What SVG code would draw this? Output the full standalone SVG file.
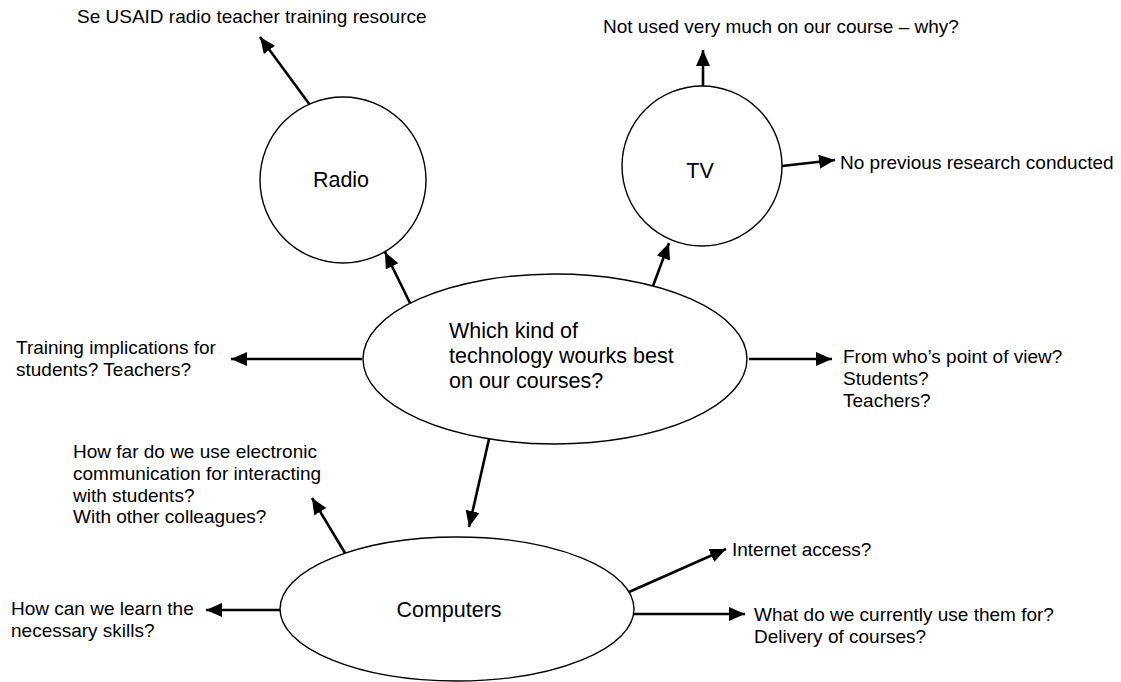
<svg xmlns="http://www.w3.org/2000/svg" width="1121" height="682" viewBox="0 0 1121 682">
<style>
.shape{fill:#fff;stroke:#000;stroke-width:1.4}
.lbl{font-family:"Liberation Sans",Arial,sans-serif;font-size:19px;fill:#000}
.big{font-family:"Liberation Sans",Arial,sans-serif;font-size:21.5px;fill:#000}
.arr{stroke:#000;stroke-width:2.6;fill:none;marker-end:url(#ah)}
</style>
<defs>
<marker id="ah" markerUnits="userSpaceOnUse" markerWidth="17" markerHeight="15" refX="16" refY="7" orient="auto" viewBox="0 0 17 15">
<path d="M0,0 L16,7 L0,14 z" fill="#000"/>
</marker>
</defs>
<rect width="1121" height="682" fill="#fff"/>
<g id="connectors">
<line class="arr" x1="310" y1="105" x2="260" y2="37"/>
<line class="arr" x1="703" y1="86" x2="703" y2="50"/>
<line class="arr" x1="782" y1="166" x2="835" y2="160"/>
<line class="arr" x1="410" y1="303" x2="385" y2="252"/>
<line class="arr" x1="653" y1="286" x2="669" y2="243"/>
<line class="arr" x1="362" y1="359" x2="231" y2="359"/>
<line class="arr" x1="749" y1="359" x2="832" y2="359"/>
<line class="arr" x1="489" y1="439" x2="469" y2="527"/>
<line class="arr" x1="345" y1="553" x2="312" y2="498"/>
<line class="arr" x1="629" y1="592" x2="726" y2="549"/>
<line class="arr" x1="634" y1="614" x2="745" y2="614"/>
<line class="arr" x1="280" y1="610" x2="206" y2="610"/>
</g>
<g id="radio">
<circle class="shape" cx="343" cy="180" r="83"/>
<text class="big" x="341" y="187" text-anchor="middle">Radio</text>
</g>
<g id="tv">
<circle class="shape" cx="702" cy="166" r="80"/>
<text class="big" x="700" y="178" text-anchor="middle">TV</text>
</g>
<g id="central">
<ellipse class="shape" cx="555" cy="359" rx="192" ry="85"/>
<text class="big" x="449" y="338">Which kind of</text>
<text class="big" x="449" y="363">technology wourks best</text>
<text class="big" x="449" y="388">on our courses?</text>
</g>
<g id="computers">
<ellipse class="shape" cx="457" cy="609" rx="177" ry="72"/>
<text class="big" x="449" y="617" text-anchor="middle">Computers</text>
</g>
<g id="note-usaid"><text class="lbl" x="77" y="23">Se USAID radio teacher training resource</text></g>
<g id="note-tv-use"><text class="lbl" x="603" y="33">Not used very much on our course – why?</text></g>
<g id="note-tv-research"><text class="lbl" x="840" y="169">No previous research conducted</text></g>
<g id="note-training">
<text class="lbl" x="16" y="354">Training implications for</text>
<text class="lbl" x="16" y="376">students? Teachers?</text>
</g>
<g id="note-pov">
<text class="lbl" x="843" y="363">From who’s point of view?</text>
<text class="lbl" x="843" y="385">Students?</text>
<text class="lbl" x="843" y="407">Teachers?</text>
</g>
<g id="note-electronic">
<text class="lbl" x="73" y="458">How far do we use electronic</text>
<text class="lbl" x="73" y="480">communication for interacting</text>
<text class="lbl" x="73" y="502">with students?</text>
<text class="lbl" x="73" y="523">With other colleagues?</text>
</g>
<g id="note-internet"><text class="lbl" x="732" y="556">Internet access?</text></g>
<g id="note-use">
<text class="lbl" x="754" y="621">What do we currently use them for?</text>
<text class="lbl" x="754" y="643">Delivery of courses?</text>
</g>
<g id="note-skills">
<text class="lbl" x="11" y="615">How can we learn the</text>
<text class="lbl" x="11" y="637">necessary skills?</text>
</g>
</svg>
